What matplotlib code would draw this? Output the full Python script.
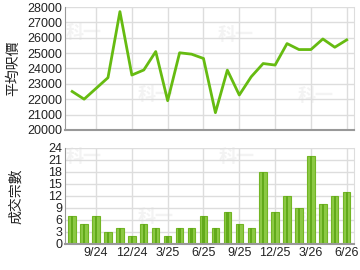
import matplotlib
matplotlib.use("Agg")
import matplotlib.pyplot as plt
import numpy as np

plt.rcParams['font.family'] = ['Liberation Sans', 'Noto Sans CJK TC', 'DejaVu Sans']

# monthly data, 7/24 .. 6/26
months = ['7/24', '8/24', '9/24', '10/24', '11/24', '12/24',
          '1/25', '2/25', '3/25', '4/25', '5/25', '6/25',
          '7/25', '8/25', '9/25', '10/25', '11/25', '12/25',
          '1/26', '2/26', '3/26', '4/26', '5/26', '6/26']
avg_price = [22500, 22000, 22700, 23400, 27700, 23570, 23900, 25100,
             21900, 25020, 24930, 24650, 21120, 23890, 22270, 23460,
             24320, 24220, 25620, 25230, 25230, 25920, 25380, 25860]
deals = [7, 5, 7, 3, 4, 2, 5, 4, 2, 4, 4, 7,
         4, 8, 5, 4, 18, 8, 12, 9, 22, 10, 12, 13]
tick_labels = ['9/24', '12/24', '3/25', '6/25', '9/25', '12/25', '3/26', '6/26']

x = np.arange(len(months))
tick_pos = [months.index(t) for t in tick_labels]

fig = plt.figure(figsize=(3.6, 2.7), dpi=100)
ax1 = fig.add_axes([0.1806, 0.519, 0.8024, 0.455])
ax2 = fig.add_axes([0.1806, 0.0963, 0.8024, 0.3557])

grid_col = '#dddddd'
spine_col = '#999999'

for ax in (ax1, ax2):
    ax.set_xlim(-0.6, 23.6)
    ax.set_xticks(tick_pos)
    ax.grid(True, color=grid_col, linewidth=1)
    ax.set_axisbelow(True)
    ax.spines['top'].set_visible(False)
    ax.spines['right'].set_color(grid_col)
    ax.spines['left'].set_color(spine_col)
    ax.spines['bottom'].set_color(spine_col)
    ax.spines['bottom'].set_linewidth(1.5)
    ax.tick_params(length=0, labelsize=9, colors='#222222', pad=2)

# top: average price per sq ft
ax1.plot(x, avg_price, color='#66bb11', linewidth=2)
ax1.set_ylim(20000, 28000)
ax1.set_yticks(range(20000, 28001, 1000))
ax1.set_xticklabels([])
ax1.set_ylabel('平均呎價', fontsize=10, color='#222222', labelpad=5)

# bottom: number of deals
ax2.bar(x, deals, width=0.62, color='#8cc944', edgecolor='#72b524', linewidth=0.8)
ax2.bar(x, deals, width=0.2, color='#62aa1a', linewidth=0)
ax2.set_ylim(0, 24)
ax2.set_yticks(range(0, 25, 3))
ax2.set_xticklabels(tick_labels)
ax2.set_ylabel('成交宗數', fontsize=10, color='#222222', labelpad=18)

# faint watermark, pixel centres of the reference
marks_top = [(84, 33), (156, 95), (236, 36), (316, 96)]
marks_bot = [(84, 157), (156, 217), (237, 157), (316, 217)]
for ax, marks in ((ax1, marks_top), (ax2, marks_bot)):
    for px, py in marks:
        ax.text(px / 360, 1 - py / 270, '科一', transform=fig.transFigure,
                fontsize=13, color='#f3f3f3', fontweight='bold',
                ha='center', va='center', zorder=0)

fig.savefig('out.png', dpi=100)
